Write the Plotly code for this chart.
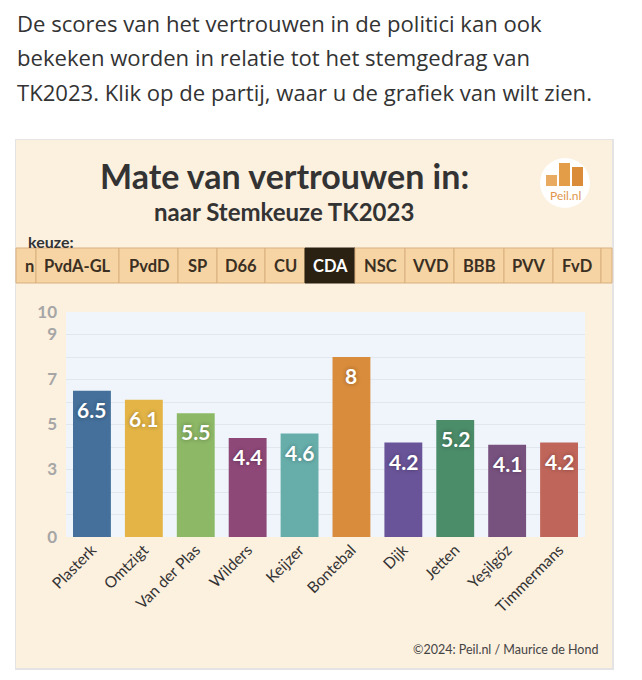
import plotly.graph_objects as go

# ---- data ----
politici = ["Plasterk", "Omtzigt", "Van der Plas", "Wilders", "Keijzer",
            "Bontebal", "Dijk", "Jetten", "Yeşilgöz", "Timmermans"]
scores = [6.5, 6.1, 5.5, 4.4, 4.6, 8, 4.2, 5.2, 4.1, 4.2]
bar_colors = ["#44709b", "#e4b546", "#8db866", "#8e4878", "#67aeab",
              "#d98c3b", "#6a5499", "#4b8c69", "#78527f", "#c0655a"]
y_ticks = [0, 3, 5, 7, 9, 10]
partijen = ["n", "PvdA-GL", "PvdD", "SP", "D66", "CU", "CDA", "NSC",
            "VVD", "BBB", "PVV", "FvD", ""]
actieve_partij = "CDA"
intro_lines = [
    "De scores van het vertrouwen in de politici kan ook",
    "bekeken worden in relatie tot het stemgedrag van",
    "TK2023. Klik op de partij, waar u de grafiek van wilt zien.",
]
titel = "Mate van vertrouwen in:"
subtitel = "naar Stemkeuze TK2023"
bron = "©2024: Peil.nl / Maurice de Hond"

# ---- geometry (screen pixels; page body adds an 8px margin) ----
OFF = 8
W, H = 642 - OFF, 680 - OFF
SL, SR, ST, SB = 66, 585, 312, 537          # plot area in screen px
FONT = "Lato"


def px(x):
    return (x - SL) / (SR - SL)


def py(y):
    return (SB - y) / (SB - ST)


def rect(x0, y0, x1, y1, fill, line=None, lw=1):
    return dict(type="rect", xref="paper", yref="paper",
                x0=px(x0), x1=px(x1), y0=py(y1), y1=py(y0),
                fillcolor=fill, line=dict(color=line or fill, width=lw if line else 0),
                layer="below")


shapes = []
# card shadow + card
shapes.append(rect(15, 139, 614, 670, "#e4e4e4"))
shapes.append(rect(16, 140, 612, 668, "#fcf0df"))
# plot area background
shapes.append(rect(SL, ST, SR, SB, "#eff5fb"))

# buttons
borders = [16, 36, 119, 178, 217, 265, 305, 355, 405, 454, 504, 553, 601, 612]
annotations = []
for i, name in enumerate(partijen):
    x0, x1 = borders[i], borders[i + 1]
    active = name == actieve_partij
    shapes.append(rect(x0, 248, x1, 283, "#2a2113" if active else "#f6d4a3",
                       line="#2a2113" if active else "#d9b07e", lw=1))
    if name:
        annotations.append(dict(xref="paper", yref="paper", x=px((x0 + x1) / 2 + (3 if i == 0 else 0)),
                                y=py(266), text=f"<b>{name}</b>", showarrow=False,
                                xanchor="center", yanchor="middle",
                                font=dict(family=FONT, size=16.5,
                                          color="#ffffff" if active else "#3b2f22")))

# logo
cx, cy, r = 565, 183, 25
shapes.append(dict(type="circle", xref="paper", yref="paper",
                   x0=px(cx - r), x1=px(cx + r), y0=py(cy + r), y1=py(cy - r),
                   fillcolor="#ffffff", line=dict(width=0), layer="below"))
shapes.append(rect(546, 175, 557, 186, "#e9ab62"))
shapes.append(rect(559, 163, 570, 186, "#e39c48"))
shapes.append(rect(572, 167, 583, 186, "#da8c38"))
annotations.append(dict(xref="paper", yref="paper", x=px(565), y=py(195),
                        text="Peil.nl", showarrow=False, xanchor="center", yanchor="middle",
                        font=dict(family=FONT, size=12, color="#e0954a")))

# intro text
for k, line in enumerate(intro_lines):
    annotations.append(dict(xref="paper", yref="paper", x=px(15), y=py(23 + 34.5 * k),
                            text=line, showarrow=False, xanchor="left", yanchor="middle",
                            font=dict(family="Open Sans", size=22.1, color="#333333")))

# titles
annotations.append(dict(xref="paper", yref="paper", x=px(284), y=py(175),
                        text=f"<b>{titel}</b>", showarrow=False, xanchor="center",
                        yanchor="middle", font=dict(family=FONT, size=34, color="#333333")))
annotations.append(dict(xref="paper", yref="paper", x=px(284), y=py(211),
                        text=f"<b>{subtitel}</b>", showarrow=False, xanchor="center",
                        yanchor="middle", font=dict(family=FONT, size=24, color="#333333")))
annotations.append(dict(xref="paper", yref="paper", x=px(26), y=py(241),
                        text="<b>keuze:</b>", showarrow=False, xanchor="left",
                        yanchor="middle", font=dict(family=FONT, size=16, color="#333333")))
annotations.append(dict(xref="paper", yref="paper", x=px(600), y=py(649),
                        text=bron, showarrow=False, xanchor="right",
                        yanchor="middle", font=dict(family=FONT, size=12.5, color="#444444")))

# value labels
for name, v in zip(politici, scores):
    annotations.append(dict(xref="x", yref="y", x=name, y=v, text=f"<b>{v:g}</b>",
                            showarrow=False, xanchor="center", yanchor="top", yshift=-4,
                            font=dict(family=FONT, size=21, color="#ffffff",
                                      shadow="0px 0px 4px rgba(0,0,0,0.35)")))

fig = go.Figure(go.Bar(x=politici, y=scores, marker=dict(color=bar_colors, line=dict(width=0)),
                       hoverinfo="skip"))

fig.update_layout(
    width=W, height=H,
    margin=dict(l=SL - OFF, r=W - (SR - OFF), t=ST - OFF, b=H - (SB - OFF), pad=0),
    paper_bgcolor="#ffffff",
    plot_bgcolor="rgba(0,0,0,0)",
    bargap=0.27,
    showlegend=False,
    shapes=shapes,
    annotations=annotations,
    font=dict(family=FONT),
)
fig.update_yaxes(range=[0, 10], tickvals=y_ticks, showgrid=True, gridcolor="#e1e7ee",
                 gridwidth=1, zeroline=False, showline=False,
                 tickfont=dict(family=FONT, size=17, color="#a6a6a6", weight="bold"),
                 ticklabelstandoff=8,
                 minor=dict(dtick=1, showgrid=True, gridcolor="#e1e7ee", gridwidth=1))
fig.update_xaxes(tickangle=-45, showgrid=False, zeroline=False, showline=False,
                 tickfont=dict(family=FONT, size=15.5, color="#333333"))

fig.write_html("out.html")
